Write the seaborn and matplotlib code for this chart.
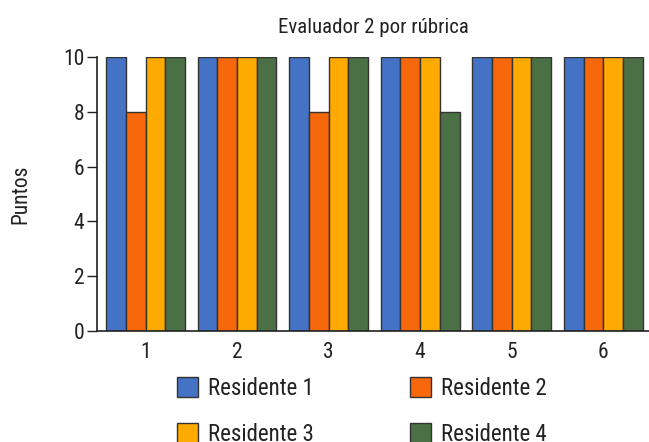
import matplotlib
matplotlib.use("Agg")
import matplotlib.pyplot as plt
import seaborn as sns
import pandas as pd
from matplotlib import font_manager

rubricas = ["1", "2", "3", "4", "5", "6"]
residente_1 = [10, 10, 10, 10, 10, 10]
residente_2 = [8, 10, 8, 10, 10, 10]
residente_3 = [10, 10, 10, 10, 10, 10]
residente_4 = [10, 10, 10, 8, 10, 10]
series_names = ["Residente 1", "Residente 2", "Residente 3", "Residente 4"]
colors = ["#4472C4", "#F7670B", "#FFAA00", "#4B7045"]
y_ticks = [0, 2, 4, 6, 8, 10]

rows = []
for name, vals in zip(series_names, [residente_1, residente_2, residente_3, residente_4]):
    for r, v in zip(rubricas, vals):
        rows.append({"Rúbrica": r, "Puntos": v, "Serie": name})
df = pd.DataFrame(rows)

sns.set_theme(style="white")
avail = {f.name for f in font_manager.fontManager.ttflist}
fam = "Liberation Sans"
narrow = False
for cand in ["Liberation Sans Narrow", "Arial Narrow", "Roboto Condensed",
             "Open Sans Condensed", "Nimbus Sans Narrow"]:
    if cand in avail:
        fam = cand
        narrow = True
        break
plt.rcParams["font.family"] = [fam, "DejaVu Sans"]
text_color = "#222222"
k = 1.0 if narrow else 0.93
fs_tick = 15.5 * k
fs_title = 15 * k if narrow else 14.5
fs_leg = 16.5 * k

fig = plt.figure(figsize=(6.49, 4.42), dpi=100)
ax = fig.add_axes([97 / 649, (442 - 331) / 442, (649 - 97) / 649, (331 - 57) / 442])

sns.barplot(data=df, x="Rúbrica", y="Puntos", hue="Serie", hue_order=series_names,
            order=rubricas, palette=colors, width=0.86, edgecolor="#333333",
            linewidth=1.0, saturation=1, ax=ax, legend=True)

ax.set_ylim(0, 10)
ax.set_xlim(-0.53, 5.5)
ax.set_yticks(y_ticks)
ax.set_yticklabels([str(t) for t in y_ticks])
for s in ["top", "right"]:
    ax.spines[s].set_visible(False)
for s in ["left", "bottom"]:
    ax.spines[s].set_color("#222222")
    ax.spines[s].set_linewidth(1.2)
ax.tick_params(axis="y", left=True, length=7, width=1, color="#222222", pad=2,
               labelsize=fs_tick, labelcolor=text_color)
ax.tick_params(axis="x", bottom=False, pad=2, labelsize=fs_tick, labelcolor=text_color)
ax.set_xlabel("")
ax.set_ylabel("Puntos", fontsize=fs_tick, color=text_color)
ax.yaxis.set_label_coords(-0.118, 0.5)
ax.set_title("Evaluador 2 por rúbrica", fontsize=fs_title, color=text_color, pad=17)

handles, labels = ax.get_legend_handles_labels()
ax.legend_.remove()
order = [0, 2, 1, 3]
leg_px = fs_leg * 100 / 72
leg = fig.legend([handles[i] for i in order], [labels[i] for i in order],
                 loc="upper left", bbox_to_anchor=(177 / 649, 1 - 377 / 442),
                 ncol=2, frameon=False, fontsize=fs_leg,
                 handlelength=21 / leg_px, handleheight=21 / leg_px,
                 handletextpad=10 / leg_px, columnspacing=1.0, labelspacing=1.0,
                 borderaxespad=0, borderpad=0)
for t in leg.get_texts():
    t.set_color(text_color)

# place second legend column so its handle starts at x=410 px
fig.canvas.draw()
r = fig.canvas.get_renderer()
cols = leg._legend_handle_box.get_children()
col1_w = cols[0].get_bbox(r).width
sep_px = (410 - 177) - col1_w
leg._legend_handle_box.sep = max(sep_px, 0) / r.points_to_pixels(1.0)
fig.savefig("out.png", dpi=100)
